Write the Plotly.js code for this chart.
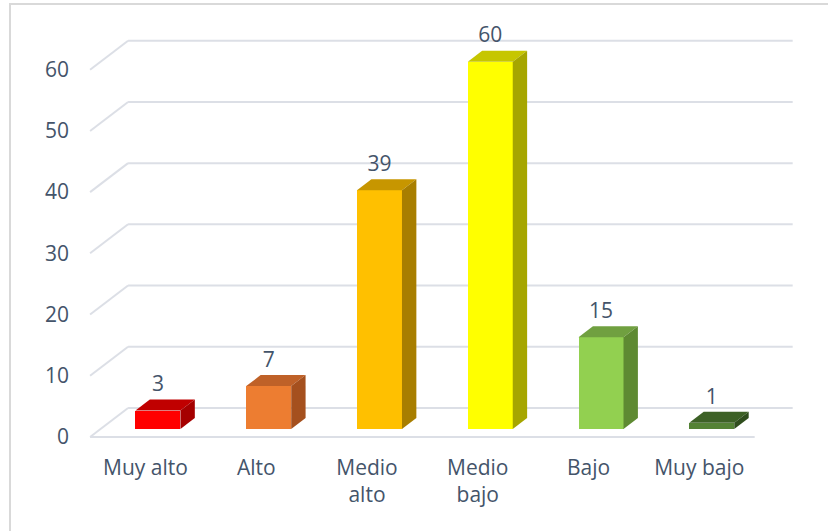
<!DOCTYPE html>
<html>
<head>
<meta charset="utf-8">
<script src="https://cdn.plot.ly/plotly-3.0.1.min.js"></script>
<style>
  html, body { margin: 0; padding: 0; background: #ffffff; overflow: hidden; }
  #frame {
    position: absolute; left: 9px; top: 3px; width: 900px; height: 600px;
    border-left: 2px solid #D9D9D9; border-top: 2px solid #D9D9D9;
  }
  #chart { position: absolute; left: 0; top: 0; width: 828px; height: 531px; }
</style>
</head>
<body>
<div id="frame"></div>
<div id="chart"></div>
<script>
// Categories and counts
const categories = ["Muy alto", "Alto", "Medio alto", "Medio bajo", "Bajo", "Muy bajo"];
const tickLabels = ["Muy alto", "Alto", "Medio<br>alto", "Medio<br>bajo", "Bajo", "Muy bajo"];
const counts = [3, 7, 39, 60, 15, 1];
const yTicks = [0, 10, 20, 30, 40, 50, 60];

// Face colours per column: front, top, side
const frontColors = ["#FF0000", "#ED7D31", "#FFC000", "#FFFF00", "#92D050", "#548235"];
const topColors   = ["#C00000", "#BF6128", "#C79600", "#C6C600", "#70A040", "#3D6126"];
const sideColors  = ["#A50000", "#A5501E", "#A87E00", "#A6A600", "#5E8A32", "#2F4D1D"];

// ---- Pseudo-3D geometry (in axis units) ----
const W = 828, H = 531;
const XU = 110.83, YU = 6.12;          // px per category / per unit
const DX = 38 / XU, DY = 29 / YU;       // full floor depth, projected
const D0 = 0.276, D1 = 0.655;           // column depth span within the floor
const COLW = 45 / XU;                   // column front width
const COL_SHIFT = 2 / XU;               // columns sit slightly right of slot centre
const xRange = [-0.6, 5.9], yRange = [-0.5, 66];

const ml = 79, mt = 33;
const plotW = (xRange[1] - xRange[0]) * XU;
const plotH = (yRange[1] - yRange[0]) * YU;
const mr = W - ml - plotW, mb = H - mt - plotH;

const textColor = "#44546A";
const gridColor = "#DCDFE6";
const font = { family: "Open Sans, Lato, sans-serif", size: 21, color: textColor };

const nCat = categories.length;

// Back wall gridlines, side-wall diagonals and floor front edge (below the columns)
const shapes = [];
const gridLine = (x0, y0, x1, y1) => ({
  type: "line", xref: "x", yref: "y", x0, y0, x1, y1, layer: "below",
  line: { color: gridColor, width: 2 }
});
yTicks.forEach(v => {
  shapes.push(gridLine(-0.5, v, -0.5 + DX, v + DY));
  shapes.push(gridLine(-0.5 + DX, v + DY, nCat - 0.5 + DX, v + DY));
});
shapes.push(gridLine(-0.5, 0, nCat - 0.5, 0));

const traces = [];

// Front faces
const b0 = D0 * DY, ox = D0 * DX + COL_SHIFT;
traces.push({
  type: "bar",
  x: counts.map((v, i) => i + ox),
  y: counts,
  base: counts.map(() => b0),
  width: COLW,
  marker: { color: frontColors, line: { width: 0 } },
  hoverinfo: "skip", showlegend: false
});

// Top and side faces of each column
const ddx = (D1 - D0) * DX, ddy = (D1 - D0) * DY;
counts.forEach((v, i) => {
  const xl = i + ox - COLW / 2, xr = i + ox + COLW / 2;
  const t = v + b0;
  traces.push({
    type: "scatter", mode: "lines", fill: "toself",
    x: [xl, xr, xr + ddx, xl + ddx, xl],
    y: [t, t, t + ddy, t + ddy, t],
    fillcolor: topColors[i], line: { width: 0, color: topColors[i] },
    hoverinfo: "skip", showlegend: false
  });
  traces.push({
    type: "scatter", mode: "lines", fill: "toself",
    x: [xr, xr + ddx, xr + ddx, xr, xr],
    y: [b0, b0 + ddy, t + ddy, t, b0],
    fillcolor: sideColors[i], line: { width: 0, color: sideColors[i] },
    hoverinfo: "skip", showlegend: false
  });
});

// Value labels above each column
traces.push({
  type: "scatter", mode: "text",
  x: counts.map((v, i) => i + ox),
  y: counts.map(v => v + D1 * DY + 0.5),
  text: counts.map(String),
  textposition: "top center",
  textfont: font,
  cliponaxis: false, hoverinfo: "skip", showlegend: false
});

const layout = {
  width: W, height: H,
  margin: { l: ml, r: mr, t: mt, b: mb, pad: 0 },
  paper_bgcolor: "rgba(0,0,0,0)",
  plot_bgcolor: "rgba(0,0,0,0)",
  showlegend: false,
  font: font,
  bargap: 0,
  shapes: shapes,
  xaxis: {
    range: xRange, showgrid: false, zeroline: false, showline: false,
    tickmode: "array", tickvals: categories.map((c, i) => i), ticktext: tickLabels,
    ticks: "", ticklabelstandoff: 13, tickfont: font, fixedrange: true
  },
  yaxis: {
    range: yRange, showgrid: false, zeroline: false, showline: false,
    tickmode: "array", tickvals: yTicks, ticktext: yTicks.map(String),
    ticks: "", ticklabelstandoff: 9, tickfont: font, fixedrange: true
  }
};

Plotly.newPlot("chart", traces, layout, { staticPlot: true, displayModeBar: false });
</script>
</body>
</html>
